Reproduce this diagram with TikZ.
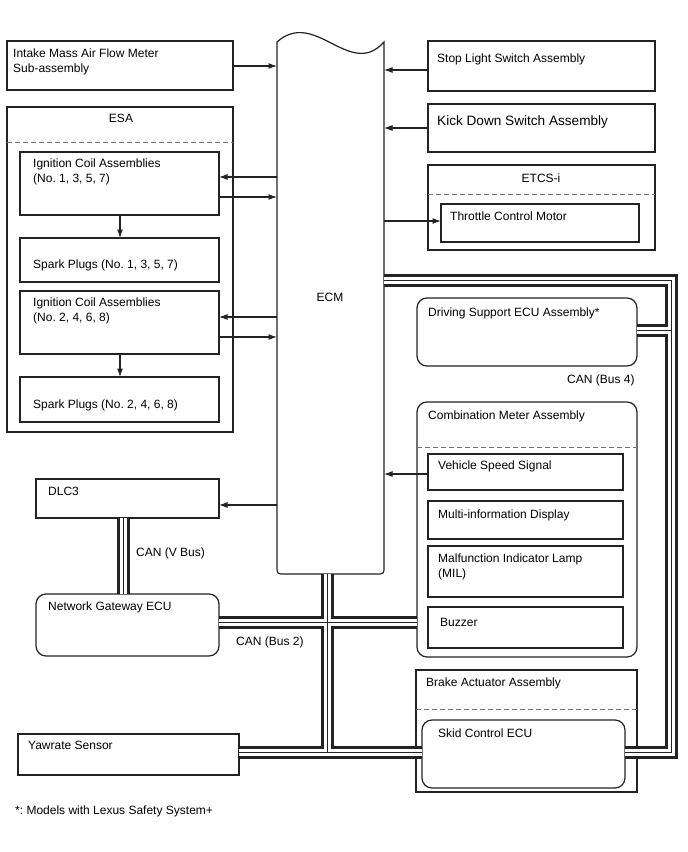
\documentclass[tikz,border=0pt]{standalone}
\usepackage{fontspec}
\setmainfont{Liberation Sans}
\usetikzlibrary{arrows.meta}
\frenchspacing
\definecolor{ln}{RGB}{35,35,35}
\definecolor{dg}{RGB}{115,115,115}
\newcommand\bx[6]{\node[#6, minimum width={#4-#2}, minimum height={#5-#3}] (#1) at ({(#2+#4)/2},{(#3+#5)/2}) {};}
\newcommand\busnet[1]{%
  \draw[#1] (dlc.south -| 123.5,0) -- (ngw.north -| 123.5,0);
  \draw[#1] (ngw.east |- 0,622.5) -- (cm.west |- 0,622.5);
  \draw[#1] (ecm.south -| 327.5,0) -- (bj);
  \draw[#1] (yaw.east |- 0,752) -- (sce.west |- 0,752);
  \draw[#1] (ecm.east |- 0,280.5) -- (rt) -- (rb) -- (sce.east |- 0,752);
  \draw[#1] (dse.east |- 0,330) -- (rj);
}
\begin{document}
\begin{tikzpicture}[x=1pt,y=-1pt,
  box/.style={draw=ln, line width=1.2pt, inner sep=0, outer sep=0},
  rbox/.style={box, rounded corners=10pt},
  hid/.style={inner sep=0, outer sep=0},
  dsh/.style={draw=dg, line width=1pt, dash pattern=on 5pt off 3pt},
  arr/.style={draw=ln, line width=1.1pt, -{Latex[length=8.5pt,width=6pt]}},
  lbl/.style={anchor=base west, inner sep=0, font=\fontsize{12}{14}\selectfont},
  clbl/.style={lbl, anchor=base},
  bigl/.style={lbl, font=\fontsize{13.6}{16}\selectfont}]
\useasboundingbox (0,0) rectangle (688,852);
% left column
\bx{maf}{7}{41}{233}{90}{box}
\bx{esa}{7}{107}{233}{432}{box}
\bx{ica1}{20}{152}{219}{215}{box}
\bx{sp1}{20}{238}{219}{282}{box}
\bx{ica2}{20}{291}{219}{354}{box}
\bx{sp2}{20}{377}{219}{422}{box}
\bx{dlc}{36}{479}{219}{518}{box}
\bx{ngw}{36}{594}{219}{656}{rbox}
\bx{yaw}{18}{734}{239}{775}{box}
% ECM
\bx{ecm}{277}{42}{384}{574}{hid}
\draw[ln, line width=1.2pt] (ecm.north west) .. controls (315,8) and (350,80) .. (ecm.north east)
  -- (384,566) .. controls (384,574) .. (376,574) -- (285,574) .. controls (277,574) .. (277,566) -- cycle;
% right column
\bx{sls}{428}{41}{655}{91}{box}
\bx{kd}{428}{104}{655}{152}{box}
\bx{etcs}{428}{165}{655}{250}{box}
\bx{tcm}{441}{204}{639}{242}{box}
\bx{dse}{417}{298}{637}{366}{rbox}
\bx{cm}{417}{402}{637}{657}{rbox}
\bx{vss}{428}{454}{623}{490}{box}
\bx{mid}{428}{501}{623}{539}{box}
\bx{mil}{428}{546}{623}{597}{box}
\bx{buz}{428}{607}{623}{648}{box}
\bx{bact}{416}{670}{637}{792}{box}
\bx{sce}{422}{720}{625}{788}{rbox}
% dashed separators
\draw[dsh] (esa.west |- 0,142) -- (esa.east |- 0,142);
\draw[dsh] (etcs.west |- 0,194) -- (etcs.east |- 0,194);
\draw[dsh] (cm.west |- 0,447) -- (cm.east |- 0,447);
\draw[dsh] (bact.west |- 0,709) -- (bact.east |- 0,709);
% bus coordinates
\coordinate (bj) at (327.5,752);
\coordinate (rt) at (671,280.5);
\coordinate (rb) at (671,752);
\coordinate (rj) at (671,330);
\busnet{line width=13pt, ln, line join=miter}
\busnet{line width=7pt, white, line join=miter}
\busnet{line width=1pt, ln}
% arrows
\draw[arr] (maf.east |- 0,66) -- (ecm.west |- 0,66);
\draw[arr] (sls.west |- 0,70) -- (ecm.east |- 0,70);
\draw[arr] (kd.west |- 0,128) -- (ecm.east |- 0,128);
\draw[arr] (ecm.east |- 0,221) -- (tcm.west |- 0,221);
\draw[arr] (ecm.west |- 0,177) -- (ica1.east |- 0,177);
\draw[arr] (ica1.east |- 0,197) -- (ecm.west |- 0,197);
\draw[arr] (ecm.west |- 0,317) -- (ica2.east |- 0,317);
\draw[arr] (ica2.east |- 0,337) -- (ecm.west |- 0,337);
\draw[arr] (ica1.south -| 120,0) -- (sp1.north -| 120,0);
\draw[arr] (ica2.south -| 120,0) -- (sp2.north -| 120,0);
\draw[arr] (vss.west |- 0,474) -- (ecm.east |- 0,474);
\draw[arr] (ecm.west |- 0,505) -- (dlc.east |- 0,505);
% labels
\node[lbl] (tmaf1) at (13,57) {Intake Mass Air Flow Meter};
\node[lbl] (tmaf2) at (13,72) {Sub-assembly};
\node[clbl] (tesa) at (121,122) {ESA};
\node[lbl] (tica1a) at (33,167) {Ignition Coil Assemblies};
\node[lbl] (tica1b) at (33,182) {(No. 1, 3, 5, 7)};
\node[lbl] (tsp1) at (33,268) {Spark Plugs (No. 1, 3, 5, 7)};
\node[lbl] (tica2a) at (33,306) {Ignition Coil Assemblies};
\node[lbl] (tica2b) at (33,321) {(No. 2, 4, 6, 8)};
\node[lbl] (tsp2) at (33,408) {Spark Plugs (No. 2, 4, 6, 8)};
\node[lbl] (tdlc) at (48,495) {DLC3};
\node[lbl] (tvbus) at (136,556) {CAN (V Bus)};
\node[lbl] (tngw) at (48,610) {Network Gateway ECU};
\node[lbl] (tbus2) at (236,645) {CAN (Bus 2)};
\node[lbl] (tyaw) at (28,749) {Yawrate Sensor};
\node[lbl] (tnote) at (15,814) {*: Models with Lexus Safety System+};
\node[clbl] (tecm) at (330,301) {ECM};
\node[lbl] (tsl) at (437,62) {Stop Light Switch Assembly};
\node[bigl] (tkd) at (437,125) {Kick Down Switch Assembly};
\node[clbl] (tetcs) at (541,182) {ETCS-i};
\node[lbl] (ttcm) at (450,220) {Throttle Control Motor};
\node[lbl] (tdse) at (428,316) {Driving Support ECU Assembly*};
\node[lbl] (tbus4) at (567,383) {CAN (Bus 4)};
\node[lbl] (tcm) at (428,419) {Combination Meter Assembly};
\node[lbl] (tvss) at (438,469) {Vehicle Speed Signal};
\node[lbl] (tmid) at (438,518) {Multi-information Display};
\node[lbl] (tmil1) at (438,562) {Malfunction Indicator Lamp};
\node[lbl] (tmil2) at (438,577) {(MIL)};
\node[lbl] (tbuz) at (440,626) {Buzzer};
\node[lbl] (tbact) at (426,686) {Brake Actuator Assembly};
\node[lbl] (tsce) at (438,737) {Skid Control ECU};
\end{tikzpicture}
\end{document}
